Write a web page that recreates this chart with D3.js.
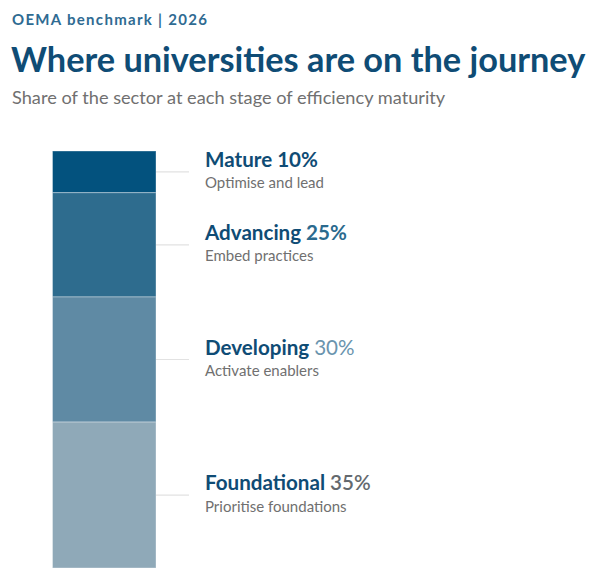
<!DOCTYPE html>
<html><head><meta charset="utf-8">
<script src="https://cdn.jsdelivr.net/npm/d3@7"></script>
<style>
html,body{margin:0;padding:0;background:#fff;}
svg{display:block;font-family:Lato,"Open Sans",sans-serif;}
</style></head>
<body>
<svg id="chart" width="600" height="585"></svg>
<script>
const stages = ["Mature","Advancing","Developing","Foundational"];
const shares = [10,25,30,35];
const actions = ["Optimise and lead","Embed practices","Activate enablers","Prioritise foundations"];
const fills = ["#03527e","#2e6c8e","#5f8aa4","#8fa9b8"];
const pctColors = ["#0f4c75","#2a6a8e","#6a94ae","#64696e"];
const pctWeights = [700,700,400,600];

const svg = d3.select("#chart");

svg.append("text").attr("x",12).attr("y",25)
  .attr("font-size",15).attr("font-weight",700).attr("letter-spacing",1.3)
  .attr("fill","#2f6b92").text("OEMA benchmark | 2026");
svg.append("text").attr("x",11).attr("y",72)
  .attr("font-size",34.3).attr("font-weight",700)
  .attr("fill","#0f4c75").text("Where universities are on the journey");
svg.append("text").attr("x",12).attr("y",103.5)
  .attr("font-size",18.2).attr("fill","#707070")
  .text("Share of the sector at each stage of efficiency maturity");

const total = d3.sum(shares);
const y = d3.scaleLinear().domain([0,total]).range([151,568]);
const x0 = 52.5, x1 = 156;

const data = stages.map((s,i)=>{
  const start = d3.sum(shares.slice(0,i));
  return {stage:s, share:shares[i], action:actions[i], start, end:start+shares[i], i};
});

const g = svg.append("g");
g.selectAll("rect").data(data).join("rect")
  .attr("x",x0).attr("width",x1-x0)
  .attr("y",d=>y(d.start)).attr("height",d=>y(d.end)-y(d.start))
  .attr("fill",d=>fills[d.i])
  .attr("stroke","rgba(255,255,255,0.35)").attr("stroke-width",1);

g.selectAll("line.leader").data(data).join("line").attr("class","leader")
  .attr("x1",x1).attr("x2",189)
  .attr("y1",d=>(y(d.start)+y(d.end))/2).attr("y2",d=>(y(d.start)+y(d.end))/2)
  .attr("stroke","#e2e2e2").attr("stroke-width",1.2);

const lab = g.selectAll("g.lab").data(data).join("g").attr("class","lab")
  .attr("transform",d=>`translate(205,${(y(d.start)+y(d.end))/2})`);
const t = lab.append("text").attr("y",-4.6).attr("font-size",20.6);
t.append("tspan").attr("font-weight",700).attr("fill","#0f4c75").text(d=>d.stage+" ");
t.append("tspan").attr("font-weight",d=>pctWeights[d.i]).attr("fill",d=>pctColors[d.i]).text(d=>d.share+"%");
lab.append("text").attr("y",16.5).attr("font-size",15).attr("fill","#707070").text(d=>d.action);
</script>
</body></html>
